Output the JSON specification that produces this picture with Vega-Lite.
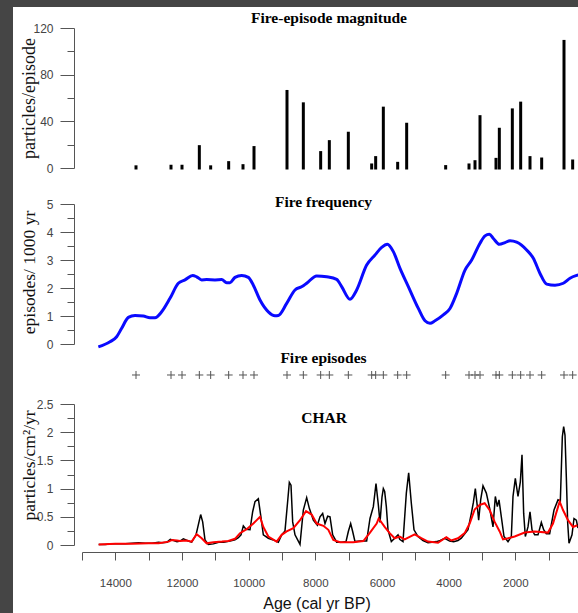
{
  "$schema": "https://vega.github.io/schema/vega-lite/v6.json",
  "width": 565,
  "height": 606,
  "autosize": "none",
  "padding": {"left": 13, "top": 7, "right": 0, "bottom": 0},
  "background": "#454545",
  "config": {
    "view": {"fill": "white", "stroke": null},
    "axis": {
      "grid": false,
      "domainColor": "#555",
      "tickColor": "#555",
      "labelColor": "#444",
      "labelFont": "Liberation Sans",
      "labelFontSize": 12,
      "titleFont": "Liberation Serif",
      "titleFontWeight": "normal",
      "titleColor": "#111",
      "labelOverlap": false,
      "labelFlush": false
    }
  },
  "datasets": {
    "episodes": [
      {"age": 13380, "mag": 1}, {"age": 12330, "mag": 1.5}, {"age": 12000, "mag": 1.5},
      {"age": 11480, "mag": 18.3}, {"age": 11140, "mag": 1}, {"age": 10600, "mag": 4.6},
      {"age": 10170, "mag": 2}, {"age": 9840, "mag": 17.5}, {"age": 8850, "mag": 65.6},
      {"age": 8360, "mag": 55}, {"age": 7840, "mag": 13.2}, {"age": 7580, "mag": 22.6},
      {"age": 7010, "mag": 29.8}, {"age": 6310, "mag": 2.6}, {"age": 6190, "mag": 8.9},
      {"age": 5960, "mag": 51.3}, {"age": 5530, "mag": 4}, {"age": 5260, "mag": 37.5},
      {"age": 4090, "mag": 1.2}, {"age": 3390, "mag": 2.6}, {"age": 3210, "mag": 5.4},
      {"age": 3060, "mag": 44}, {"age": 2580, "mag": 7.4}, {"age": 2480, "mag": 33.2},
      {"age": 2090, "mag": 49.8}, {"age": 1840, "mag": 55.6}, {"age": 1560, "mag": 8.9},
      {"age": 1210, "mag": 7.7}, {"age": 540, "mag": 108.5}, {"age": 280, "mag": 6}
    ],
    "freq": [
      {"age": 14510, "f": -0.1}, {"age": 14160, "f": 0.08}, {"age": 13960, "f": 0.26},
      {"age": 13810, "f": 0.56}, {"age": 13610, "f": 0.95}, {"age": 13410, "f": 1.02},
      {"age": 13160, "f": 1.0}, {"age": 12960, "f": 0.94}, {"age": 12810, "f": 0.94},
      {"age": 12610, "f": 1.15}, {"age": 12360, "f": 1.63}, {"age": 12110, "f": 2.17},
      {"age": 11910, "f": 2.29}, {"age": 11680, "f": 2.45}, {"age": 11560, "f": 2.4},
      {"age": 11410, "f": 2.29}, {"age": 11260, "f": 2.3}, {"age": 11010, "f": 2.29},
      {"age": 10810, "f": 2.3}, {"age": 10660, "f": 2.19}, {"age": 10560, "f": 2.19},
      {"age": 10410, "f": 2.38}, {"age": 10210, "f": 2.45}, {"age": 10010, "f": 2.38},
      {"age": 9860, "f": 2.1}, {"age": 9660, "f": 1.57}, {"age": 9410, "f": 1.15},
      {"age": 9210, "f": 1.01}, {"age": 9110, "f": 1.02}, {"age": 8860, "f": 1.45},
      {"age": 8610, "f": 1.93}, {"age": 8400, "f": 2.05}, {"age": 8260, "f": 2.17},
      {"age": 7960, "f": 2.43}, {"age": 7660, "f": 2.4}, {"age": 7360, "f": 2.31},
      {"age": 7210, "f": 2.05}, {"age": 6960, "f": 1.6}, {"age": 6760, "f": 1.93},
      {"age": 6460, "f": 2.82}, {"age": 6210, "f": 3.18}, {"age": 6010, "f": 3.45},
      {"age": 5840, "f": 3.56}, {"age": 5660, "f": 3.3}, {"age": 5460, "f": 2.7},
      {"age": 5210, "f": 2.05}, {"age": 4910, "f": 1.27}, {"age": 4710, "f": 0.83},
      {"age": 4560, "f": 0.74}, {"age": 4410, "f": 0.83}, {"age": 4160, "f": 1.04},
      {"age": 3960, "f": 1.27}, {"age": 3760, "f": 1.81}, {"age": 3510, "f": 2.64},
      {"age": 3310, "f": 3.0}, {"age": 3060, "f": 3.6}, {"age": 2910, "f": 3.86},
      {"age": 2780, "f": 3.92}, {"age": 2660, "f": 3.77}, {"age": 2480, "f": 3.56},
      {"age": 2310, "f": 3.62}, {"age": 2160, "f": 3.69}, {"age": 1960, "f": 3.64},
      {"age": 1660, "f": 3.36}, {"age": 1460, "f": 3.06}, {"age": 1260, "f": 2.52},
      {"age": 1060, "f": 2.14}, {"age": 810, "f": 2.1}, {"age": 560, "f": 2.17},
      {"age": 360, "f": 2.35}, {"age": 160, "f": 2.45}, {"age": 0, "f": 2.5}
    ],
    "char": [
      {"age": 14500, "c": 0.01}, {"age": 14300, "c": 0.01}, {"age": 14100, "c": 0.02},
      {"age": 13900, "c": 0.02}, {"age": 13700, "c": 0.02}, {"age": 13500, "c": 0.03},
      {"age": 13300, "c": 0.04}, {"age": 13100, "c": 0.03}, {"age": 12900, "c": 0.03},
      {"age": 12700, "c": 0.05}, {"age": 12600, "c": 0.04}, {"age": 12450, "c": 0.05},
      {"age": 12350, "c": 0.1}, {"age": 12250, "c": 0.08}, {"age": 12150, "c": 0.06},
      {"age": 12060, "c": 0.07}, {"age": 11960, "c": 0.11}, {"age": 11810, "c": 0.07},
      {"age": 11710, "c": 0.05}, {"age": 11580, "c": 0.18}, {"age": 11490, "c": 0.41},
      {"age": 11440, "c": 0.54}, {"age": 11380, "c": 0.41}, {"age": 11310, "c": 0.09},
      {"age": 11210, "c": 0.01}, {"age": 11060, "c": 0.02}, {"age": 10900, "c": 0.05},
      {"age": 10750, "c": 0.05}, {"age": 10560, "c": 0.07}, {"age": 10410, "c": 0.09},
      {"age": 10310, "c": 0.13}, {"age": 10230, "c": 0.18}, {"age": 10160, "c": 0.34},
      {"age": 10080, "c": 0.28}, {"age": 9960, "c": 0.27}, {"age": 9880, "c": 0.59},
      {"age": 9810, "c": 0.77}, {"age": 9710, "c": 0.82}, {"age": 9640, "c": 0.53},
      {"age": 9560, "c": 0.18}, {"age": 9410, "c": 0.12}, {"age": 9260, "c": 0.09},
      {"age": 9110, "c": 0.05}, {"age": 9010, "c": 0.18}, {"age": 8910, "c": 0.25},
      {"age": 8840, "c": 0.71}, {"age": 8780, "c": 1.11}, {"age": 8730, "c": 1.06},
      {"age": 8680, "c": 0.41}, {"age": 8610, "c": 0.18}, {"age": 8460, "c": 0.01},
      {"age": 8360, "c": 0.62}, {"age": 8260, "c": 0.84}, {"age": 8180, "c": 0.65},
      {"age": 8060, "c": 0.44}, {"age": 7940, "c": 0.35}, {"age": 7860, "c": 0.5},
      {"age": 7780, "c": 0.56}, {"age": 7710, "c": 0.38}, {"age": 7630, "c": 0.51},
      {"age": 7560, "c": 0.5}, {"age": 7480, "c": 0.18}, {"age": 7360, "c": 0.05},
      {"age": 7200, "c": 0.05}, {"age": 7080, "c": 0.06}, {"age": 7010, "c": 0.24},
      {"age": 6940, "c": 0.38}, {"age": 6880, "c": 0.24}, {"age": 6810, "c": 0.06},
      {"age": 6650, "c": 0.07}, {"age": 6460, "c": 0.07}, {"age": 6360, "c": 0.47},
      {"age": 6260, "c": 0.68}, {"age": 6180, "c": 1.09}, {"age": 6110, "c": 0.71},
      {"age": 6060, "c": 0.4}, {"age": 6000, "c": 0.85}, {"age": 5960, "c": 1.0},
      {"age": 5920, "c": 0.95}, {"age": 5870, "c": 0.68}, {"age": 5820, "c": 0.27},
      {"age": 5720, "c": 0.06}, {"age": 5620, "c": 0.12}, {"age": 5520, "c": 0.18},
      {"age": 5470, "c": 0.1}, {"age": 5370, "c": 0.06}, {"age": 5270, "c": 0.92},
      {"age": 5200, "c": 1.28}, {"age": 5120, "c": 0.74}, {"age": 5040, "c": 0.27},
      {"age": 4920, "c": 0.15}, {"age": 4770, "c": 0.08}, {"age": 4620, "c": 0.04},
      {"age": 4500, "c": 0.05}, {"age": 4370, "c": 0.06}, {"age": 4250, "c": 0.08},
      {"age": 4120, "c": 0.12}, {"age": 3970, "c": 0.07}, {"age": 3850, "c": 0.06},
      {"age": 3720, "c": 0.08}, {"age": 3620, "c": 0.12}, {"age": 3540, "c": 0.18},
      {"age": 3420, "c": 0.27}, {"age": 3320, "c": 0.56}, {"age": 3260, "c": 0.75},
      {"age": 3200, "c": 1.0}, {"age": 3140, "c": 0.68}, {"age": 3100, "c": 0.44},
      {"age": 3040, "c": 0.8}, {"age": 2970, "c": 1.05}, {"age": 2870, "c": 0.92},
      {"age": 2770, "c": 0.65}, {"age": 2670, "c": 0.32}, {"age": 2600, "c": 0.86},
      {"age": 2540, "c": 0.68}, {"age": 2490, "c": 0.8}, {"age": 2420, "c": 0.5},
      {"age": 2340, "c": 0.15}, {"age": 2220, "c": 0.06}, {"age": 2120, "c": 0.15},
      {"age": 2070, "c": 0.86}, {"age": 2000, "c": 1.18}, {"age": 1920, "c": 0.86},
      {"age": 1850, "c": 1.12}, {"age": 1800, "c": 1.6}, {"age": 1750, "c": 0.56},
      {"age": 1700, "c": 0.15}, {"age": 1620, "c": 0.32}, {"age": 1560, "c": 0.59},
      {"age": 1500, "c": 0.27}, {"age": 1420, "c": 0.18}, {"age": 1320, "c": 0.18},
      {"age": 1220, "c": 0.4}, {"age": 1150, "c": 0.27}, {"age": 1070, "c": 0.2},
      {"age": 970, "c": 0.2}, {"age": 840, "c": 0.62}, {"age": 720, "c": 0.8},
      {"age": 650, "c": 0.78}, {"age": 590, "c": 1.92}, {"age": 550, "c": 2.1},
      {"age": 510, "c": 1.95}, {"age": 470, "c": 1.2}, {"age": 430, "c": 0.4},
      {"age": 390, "c": 0.03}, {"age": 300, "c": 0.18}, {"age": 240, "c": 0.47},
      {"age": 170, "c": 0.44}, {"age": 120, "c": 0.3}
    ],
    "background": [
      {"age": 14500, "b": 0.01}, {"age": 14000, "b": 0.02}, {"age": 13500, "b": 0.02},
      {"age": 13000, "b": 0.03}, {"age": 12700, "b": 0.03}, {"age": 12400, "b": 0.06},
      {"age": 12300, "b": 0.09}, {"age": 12150, "b": 0.08}, {"age": 12060, "b": 0.07},
      {"age": 11860, "b": 0.08}, {"age": 11710, "b": 0.06}, {"age": 11560, "b": 0.19},
      {"age": 11410, "b": 0.12}, {"age": 11260, "b": 0.03}, {"age": 11060, "b": 0.05},
      {"age": 10800, "b": 0.06}, {"age": 10610, "b": 0.07}, {"age": 10410, "b": 0.11},
      {"age": 10260, "b": 0.21}, {"age": 10060, "b": 0.28}, {"age": 9860, "b": 0.38},
      {"age": 9660, "b": 0.5}, {"age": 9560, "b": 0.32}, {"age": 9410, "b": 0.15},
      {"age": 9160, "b": 0.06}, {"age": 9010, "b": 0.18}, {"age": 8860, "b": 0.24},
      {"age": 8660, "b": 0.3}, {"age": 8460, "b": 0.44}, {"age": 8280, "b": 0.6},
      {"age": 8110, "b": 0.54}, {"age": 7960, "b": 0.38}, {"age": 7760, "b": 0.34},
      {"age": 7610, "b": 0.27}, {"age": 7460, "b": 0.09}, {"age": 7260, "b": 0.05},
      {"age": 6860, "b": 0.05}, {"age": 6560, "b": 0.07}, {"age": 6360, "b": 0.22},
      {"age": 6160, "b": 0.38}, {"age": 6100, "b": 0.47}, {"age": 5920, "b": 0.32},
      {"age": 5770, "b": 0.21}, {"age": 5620, "b": 0.12}, {"age": 5470, "b": 0.15},
      {"age": 5320, "b": 0.1}, {"age": 5020, "b": 0.19}, {"age": 4820, "b": 0.12},
      {"age": 4620, "b": 0.06}, {"age": 4320, "b": 0.04}, {"age": 4070, "b": 0.14},
      {"age": 3920, "b": 0.08}, {"age": 3720, "b": 0.12}, {"age": 3520, "b": 0.21},
      {"age": 3370, "b": 0.38}, {"age": 3220, "b": 0.63}, {"age": 3070, "b": 0.71},
      {"age": 2920, "b": 0.74}, {"age": 2770, "b": 0.62}, {"age": 2620, "b": 0.41},
      {"age": 2470, "b": 0.24}, {"age": 2370, "b": 0.1}, {"age": 2220, "b": 0.12},
      {"age": 2020, "b": 0.15}, {"age": 1720, "b": 0.22}, {"age": 1420, "b": 0.24},
      {"age": 1020, "b": 0.22}, {"age": 870, "b": 0.38}, {"age": 670, "b": 0.77},
      {"age": 570, "b": 0.62}, {"age": 420, "b": 0.44}, {"age": 270, "b": 0.32},
      {"age": 140, "b": 0.35}
    ]
  },
  "resolve": {"scale": {"y": "independent"}, "axis": {"y": "independent"}},
  "layer": [
    {
      "layer": [
        {
          "data": {"name": "episodes"},
          "mark": {"type": "rule", "color": "black", "strokeWidth": 3, "strokeCap": "square"},
          "encoding": {
            "x": {
              "field": "age", "type": "quantitative",
              "scale": {"domain": [15000, 0], "range": [69, 569], "nice": false, "zero": false},
              "axis": {
                "orient": "bottom", "offset": -61,
                "values": [15000, 14000, 13000, 12000, 11000, 10000, 9000, 8000, 7000, 6000, 5000, 4000, 3000, 2000, 1000, 0],
                "tickCount": 100,
                "format": "d",
                "labelOverlap": false,
                "labelExpr": "datum.value % 2000 === 0 ? datum.label : ''",
                "tickSize": 8,
                "labelPadding": 17,
                "labelFontSize": 11.5,
                "labelColor": "#444",
                "title": "Age (cal yr BP)",
                "titleFont": "Liberation Sans",
                "titleFontSize": 16,
                "titleColor": "#111",
                "titleX": 303.5, "titleY": 51,
                "titleAlign": "center", "titleBaseline": "middle"
              }
            },
            "y": {
              "field": "mag", "type": "quantitative",
              "scale": {"domain": [0, 120], "range": [161, 21], "nice": false, "zero": false},
              "axis": {
                "orient": "left", "offset": -61,
                "values": [0, 20, 40, 60, 80, 100, 120],
                "tickCount": 100,
                "format": "d",
                "labelOverlap": false,
                "labelExpr": "datum.value % 40 === 0 ? datum.label : ''",
                "tickSize": {"condition": {"test": "datum.value % 40 === 0", "value": 14}, "value": 7},
                "labelPadding": 7,
                "title": "particles/episode",
                "titleFontSize": 18,
                "titleX": -45, "titleY": 91, "titleAngle": -90,
                "titleAlign": "center", "titleBaseline": "middle"
              }
            },
            "y2": {"datum": 0}
          }
        },
        {
          "data": {"values": [{}]},
          "mark": {"type": "text", "text": "Fire-episode magnitude", "font": "Liberation Serif", "fontWeight": "bold", "fontSize": 15.5, "align": "center", "baseline": "alphabetic", "color": "black"},
          "encoding": {
            "x": {"datum": 7590, "type": "quantitative"},
            "y": {"datum": 124.5, "type": "quantitative", "scale": {"domain": [0, 120], "range": [161, 21], "nice": false, "zero": false}}
          }
        }
      ]
    },
    {
      "layer": [
        {
          "data": {"name": "freq"},
          "mark": {"type": "line", "color": "#0a0aff", "strokeWidth": 3, "interpolate": "monotone"},
          "encoding": {
            "x": {"field": "age", "type": "quantitative"},
            "y": {
              "field": "f", "type": "quantitative",
              "scale": {"domain": [0, 5], "range": [337, 197], "nice": false, "zero": false},
              "axis": {
                "orient": "left", "offset": -61,
                "values": [0, 0.5, 1, 1.5, 2, 2.5, 3, 3.5, 4, 4.5, 5],
                "tickCount": 100,
                "format": "~g",
                "labelOverlap": false,
                "labelExpr": "datum.value % 1 === 0 ? datum.label : ''",
                "tickSize": {"condition": {"test": "datum.value % 1 === 0", "value": 14}, "value": 7},
                "labelPadding": 7,
                "title": "episodes/ 1000 yr",
                "titleFontSize": 17.5,
                "titleX": -45, "titleY": 265, "titleAngle": -90,
                "titleAlign": "center", "titleBaseline": "middle"
              }
            }
          }
        },
        {
          "data": {"name": "episodes"},
          "mark": {"type": "point", "shape": "M-1,0L1,0M0,-1L0,1", "filled": false, "color": "#555", "strokeWidth": 1, "size": 64, "opacity": 1},
          "encoding": {
            "x": {"field": "age", "type": "quantitative"},
            "y": {"datum": -1.107, "type": "quantitative", "scale": {"domain": [0, 5], "range": [337, 197], "nice": false, "zero": false}}
          }
        },
        {
          "data": {"values": [{}]},
          "mark": {"type": "text", "text": "Fire frequency", "font": "Liberation Serif", "fontWeight": "bold", "fontSize": 15.5, "align": "center", "baseline": "alphabetic", "color": "black"},
          "encoding": {
            "x": {"datum": 7755, "type": "quantitative"},
            "y": {"datum": 4.89, "type": "quantitative", "scale": {"domain": [0, 5], "range": [337, 197], "nice": false, "zero": false}}
          }
        },
        {
          "data": {"values": [{}]},
          "mark": {"type": "text", "text": "Fire episodes", "font": "Liberation Serif", "fontWeight": "bold", "fontSize": 15.5, "align": "center", "baseline": "alphabetic", "color": "black"},
          "encoding": {
            "x": {"datum": 7755, "type": "quantitative"},
            "y": {"datum": -0.68, "type": "quantitative", "scale": {"domain": [0, 5], "range": [337, 197], "nice": false, "zero": false}}
          }
        }
      ]
    },
    {
      "layer": [
        {
          "data": {"name": "char"},
          "mark": {"type": "line", "color": "black", "strokeWidth": 1.5},
          "encoding": {
            "x": {"field": "age", "type": "quantitative"},
            "y": {
              "field": "c", "type": "quantitative",
              "scale": {"domain": [0, 2.5], "range": [538, 397], "nice": false, "zero": false},
              "axis": {
                "orient": "left", "offset": -61,
                "values": [0, 0.25, 0.5, 0.75, 1, 1.25, 1.5, 1.75, 2, 2.25, 2.5],
                "tickCount": 100,
                "format": "~g",
                "labelOverlap": false,
                "labelExpr": "datum.value % 0.5 === 0 ? datum.label : ''",
                "tickSize": {"condition": {"test": "datum.value % 0.5 === 0", "value": 14}, "value": 7},
                "labelPadding": 7,
                "title": "particles/cm²/yr",
                "titleFontSize": 17.5,
                "titleX": -45, "titleY": 458, "titleAngle": -90,
                "titleAlign": "center", "titleBaseline": "middle"
              }
            }
          }
        },
        {
          "data": {"name": "background"},
          "mark": {"type": "line", "color": "#ff0000", "strokeWidth": 2},
          "encoding": {
            "x": {"field": "age", "type": "quantitative"},
            "y": {"field": "b", "type": "quantitative", "scale": {"domain": [0, 2.5], "range": [538, 397], "nice": false, "zero": false}}
          }
        },
        {
          "data": {"values": [{}]},
          "mark": {"type": "text", "text": "CHAR", "font": "Liberation Serif", "fontWeight": "bold", "fontSize": 15.5, "align": "center", "baseline": "alphabetic", "color": "black"},
          "encoding": {
            "x": {"datum": 7740, "type": "quantitative"},
            "y": {"datum": 2.163, "type": "quantitative", "scale": {"domain": [0, 2.5], "range": [538, 397], "nice": false, "zero": false}}
          }
        }
      ]
    }
  ]
}
